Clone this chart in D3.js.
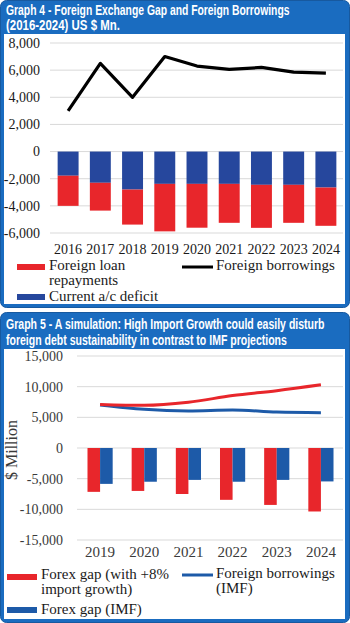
<!DOCTYPE html>
<html>
<head>
<meta charset="utf-8">
<script src="https://cdn.jsdelivr.net/npm/d3@7"></script>
<style>
  body { margin: 0; background: #fff; }
  svg { display: block; }
</style>
</head>
<body>
<div id="chart"></div>
<script>
// ---- Graph 4 data ----
var years4 = ["2016", "2017", "2018", "2019", "2020", "2021", "2022", "2023", "2024"];
var currentDeficit = [-1780, -2300, -2800, -2380, -2380, -2380, -2450, -2450, -2650];
var loanRepayments = [-2220, -2050, -2580, -3500, -3230, -2870, -3170, -2800, -2820];
var foreignBorrowings = [3000, 6500, 4000, 7000, 6300, 6050, 6200, 5850, 5780];
var ticks4 = [8000, 6000, 4000, 2000, 0, -2000, -4000, -6000];

// ---- Graph 5 data ----
var years5 = ["2019", "2020", "2021", "2022", "2023", "2024"];
var gapHighImport = [-7150, -7000, -7500, -8450, -9280, -10350];
var gapIMF = [-5850, -5500, -5200, -5500, -5200, -5450];
var borrowHighImport = [7100, 6950, 7450, 8550, 9350, 10300];
var borrowIMF = [7000, 6300, 6050, 6200, 5850, 5750];
var ticks5 = [15000, 10000, 5000, 0, -5000, -10000, -15000];

var W = 350, H = 623;
var red = "#e8262b", navy = "#26479d", blue5 = "#1d5aa8";
var frame = "#1a6cc0", frameDark = "#17599f";
var serif = "'Liberation Serif', 'DejaVu Serif', serif";
var sans = "'Liberation Sans', Arial, sans-serif";

var svg = d3.select("#chart").append("svg")
    .attr("width", W)
    .attr("height", H);

function panel(y0, y1, innerTop, lines){
    svg.append("rect")
        .attr("x", 0.5).attr("y", y0 + 0.5)
        .attr("width", W - 1).attr("height", y1 - y0 - 1)
        .attr("rx", 6)
        .attr("fill", frame)
        .attr("stroke", frameDark)
        .attr("stroke-width", 1);
    svg.append("rect")
        .attr("x", 4).attr("y", innerTop)
        .attr("width", W - 9).attr("height", y1 - innerTop - 4)
        .attr("fill", "#fff");
    // condensed bold title: squeeze each line to the width seen in the print
    lines.forEach(function(l){
        var t = svg.append("text")
            .attr("x", 0).attr("y", 0)
            .attr("fill", "#fff")
            .attr("font-family", sans)
            .attr("font-weight", "bold")
            .attr("font-size", "14px")
            .text(l.t);
        var natural = t.node().getComputedTextLength();
        t.attr("transform", "translate(6," + l.y + ") scale(" + (l.w / natural) + ",1)");
    });
}

panel(0, 308, 34, [
    { t: "Graph 4 - Foreign Exchange Gap and Foreign Borrowings", y: 15, w: 284 },
    { t: "(2016-2024) US $ Mn.", y: 30, w: 114 }
]);
panel(312, 623, 349, [
    { t: "Graph 5 - A simulation: High Import Growth could easily disturb", y: 329, w: 319 },
    { t: "foreign debt sustainability in contrast to IMF projections", y: 345, w: 281 }
]);

// ================= Graph 4 =================
var g4 = svg.append("g");

var x4 = d3.scaleBand()
    .domain(years4)
    .range([52, 342])
    .paddingInner(0.35)
    .paddingOuter(0.175);

var y4 = d3.scaleLinear()
    .domain([-6000, 8000])
    .range([233, 43]);

g4.selectAll(".grid4")
    .data(ticks4)
    .enter().append("line")
    .attr("x1", 50).attr("x2", 343)
    .attr("y1", function(d){ return y4(d); })
    .attr("y2", function(d){ return y4(d); })
    .attr("stroke", "#d9d9d9")
    .attr("stroke-width", 1);

g4.selectAll(".ytick4")
    .data(ticks4)
    .enter().append("text")
    .attr("x", 40)
    .attr("y", function(d){ return y4(d); })
    .attr("dy", "0.35em")
    .attr("text-anchor", "end")
    .attr("font-family", serif)
    .attr("font-size", "14px")
    .attr("fill", "#1a1a1a")
    .text(function(d){ return d3.format(",")(d).replace("−", "-"); });

// stacked bars: deficit from 0, repayments below it
g4.selectAll(".def")
    .data(years4)
    .enter().append("rect")
    .attr("x", function(d){ return x4(d); })
    .attr("width", x4.bandwidth())
    .attr("y", y4(0))
    .attr("height", function(d, i){ return y4(currentDeficit[i]) - y4(0); })
    .attr("fill", navy);

g4.selectAll(".rep")
    .data(years4)
    .enter().append("rect")
    .attr("x", function(d){ return x4(d); })
    .attr("width", x4.bandwidth())
    .attr("y", function(d, i){ return y4(currentDeficit[i]); })
    .attr("height", function(d, i){ return y4(currentDeficit[i] + loanRepayments[i]) - y4(currentDeficit[i]); })
    .attr("fill", red);

var line4 = d3.line()
    .x(function(d, i){ return x4(years4[i]) + x4.bandwidth() / 2; })
    .y(function(d){ return y4(d); });

g4.append("path")
    .datum(foreignBorrowings)
    .attr("d", line4)
    .attr("fill", "none")
    .attr("stroke", "#000")
    .attr("stroke-width", 3.2)
    .attr("stroke-linejoin", "round");

g4.selectAll(".xlab4")
    .data(years4)
    .enter().append("text")
    .attr("x", function(d){ return x4(d) + x4.bandwidth() / 2; })
    .attr("y", 254)
    .attr("text-anchor", "middle")
    .attr("font-family", serif)
    .attr("font-size", "14px")
    .attr("fill", "#1a1a1a")
    .text(function(d){ return d; });

// legend 4
function legendText(g, x, y, lines, size){
    var t = g.append("text")
        .attr("x", x).attr("y", y)
        .attr("font-family", serif)
        .attr("font-size", size)
        .attr("fill", "#1a1a1a");
    lines.forEach(function(s, i){
        t.append("tspan").attr("x", x).attr("dy", i ? "1em" : 0).text(s);
    });
}
g4.append("rect").attr("x", 17).attr("y", 264).attr("width", 28).attr("height", 6).attr("fill", red);
legendText(g4, 49, 270, ["Foreign loan", "repayments"], "15px");
g4.append("rect").attr("x", 17).attr("y", 294).attr("width", 28).attr("height", 6).attr("fill", navy);
legendText(g4, 49, 301, ["Current a/c deficit"], "15px");
g4.append("line").attr("x1", 182).attr("x2", 213).attr("y1", 267).attr("y2", 267)
    .attr("stroke", "#000").attr("stroke-width", 3);
legendText(g4, 216, 270, ["Foreign borrowings"], "15px");

// ================= Graph 5 =================
var g5 = svg.append("g");

var x5 = d3.scaleBand()
    .domain(years5)
    .range([78, 343])
    .paddingInner(0.43)
    .paddingOuter(0.215);

var xs5 = d3.scaleBand()
    .domain(["high", "imf"])
    .range([0, x5.bandwidth()]);

var y5 = d3.scaleLinear()
    .domain([-15000, 15000])
    .range([540, 356]);

g5.selectAll(".grid5")
    .data(ticks5)
    .enter().append("line")
    .attr("x1", 77).attr("x2", 343)
    .attr("y1", function(d){ return y5(d); })
    .attr("y2", function(d){ return y5(d); })
    .attr("stroke", "#d9d9d9")
    .attr("stroke-width", 1);

g5.selectAll(".ytick5")
    .data(ticks5)
    .enter().append("text")
    .attr("x", 63)
    .attr("y", function(d){ return y5(d); })
    .attr("dy", "0.35em")
    .attr("text-anchor", "end")
    .attr("font-family", serif)
    .attr("font-size", "14px")
    .attr("fill", "#3a3a3a")
    .text(function(d){ return d3.format(",")(d).replace("−", "-"); });

g5.append("text")
    .attr("transform", "translate(17," + 450 + ") rotate(-90)")
    .attr("text-anchor", "middle")
    .attr("font-family", serif)
    .attr("font-size", "16px")
    .attr("fill", "#3a3a3a")
    .text("$ Million");

g5.selectAll(".gapHigh")
    .data(years5)
    .enter().append("rect")
    .attr("x", function(d){ return x5(d) + xs5("high"); })
    .attr("width", xs5.bandwidth())
    .attr("y", y5(0))
    .attr("height", function(d, i){ return y5(gapHighImport[i]) - y5(0); })
    .attr("fill", red);

g5.selectAll(".gapImf")
    .data(years5)
    .enter().append("rect")
    .attr("x", function(d){ return x5(d) + xs5("imf"); })
    .attr("width", xs5.bandwidth())
    .attr("y", y5(0))
    .attr("height", function(d, i){ return y5(gapIMF[i]) - y5(0); })
    .attr("fill", blue5);

var line5 = d3.line()
    .x(function(d, i){ return x5(years5[i]) + x5.bandwidth() / 2; })
    .y(function(d){ return y5(d); })
    .curve(d3.curveMonotoneX);

g5.append("path")
    .datum(borrowIMF)
    .attr("d", line5)
    .attr("fill", "none")
    .attr("stroke", blue5)
    .attr("stroke-width", 3);

g5.append("path")
    .datum(borrowHighImport)
    .attr("d", line5)
    .attr("fill", "none")
    .attr("stroke", red)
    .attr("stroke-width", 3);

g5.selectAll(".xlab5")
    .data(years5)
    .enter().append("text")
    .attr("x", function(d){ return x5(d) + x5.bandwidth() / 2; })
    .attr("y", 557)
    .attr("text-anchor", "middle")
    .attr("font-family", serif)
    .attr("font-size", "15px")
    .attr("fill", "#3a3a3a")
    .text(function(d){ return d; });

// legend 5
g5.append("rect").attr("x", 7).attr("y", 574).attr("width", 30).attr("height", 6).attr("fill", red);
legendText(g5, 41, 579, ["Forex gap (with +8%", "import growth)"], "15px");
g5.append("rect").attr("x", 7).attr("y", 607).attr("width", 30).attr("height", 6).attr("fill", blue5);
legendText(g5, 41, 614, ["Forex gap (IMF)"], "15px");
g5.append("line").attr("x1", 182).attr("x2", 213).attr("y1", 575).attr("y2", 575)
    .attr("stroke", blue5).attr("stroke-width", 3);
legendText(g5, 216, 578, ["Foreign borrowings", "(IMF)"], "15px");
</script>
</body>
</html>
